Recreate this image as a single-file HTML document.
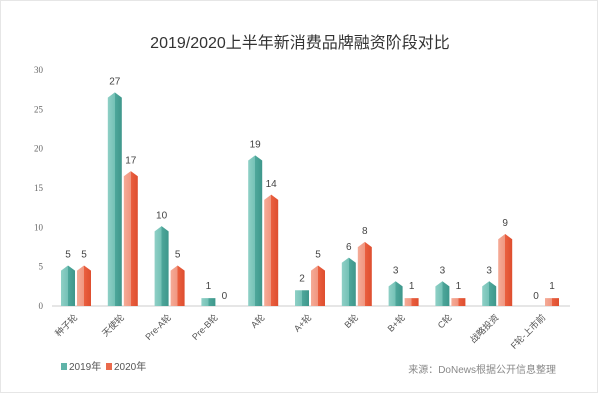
<!DOCTYPE html>
<html><head><meta charset="utf-8"><style>
body{margin:0;background:#fff;}
svg text{font-family:"Liberation Sans","Noto Sans CJK SC",sans-serif;}
</style></head><body>
<svg width="600" height="400" viewBox="0 0 600 400">
<defs>
<linearGradient id="gt" x1="0" x2="1"><stop offset="0" stop-color="#8fd0c6"/><stop offset="0.5" stop-color="#74c1b6"/><stop offset="0.5" stop-color="#4ea79b"/><stop offset="1" stop-color="#3e978b"/></linearGradient>
<linearGradient id="go" x1="0" x2="1"><stop offset="0" stop-color="#f5ab97"/><stop offset="0.5" stop-color="#f09680"/><stop offset="0.5" stop-color="#ea5f3f"/><stop offset="1" stop-color="#de4e2f"/></linearGradient>
</defs>
<rect x="0.5" y="0.5" width="597" height="392" fill="#fff" stroke="#e6e6e6"/>
<text x="300" y="48" text-anchor="middle" font-size="16" fill="#333">2019/2020上半年新消费品牌融资阶段对比</text>
<g id="yaxis"></g>
<line x1="52" y1="306" x2="570" y2="306" stroke="#ddd" stroke-width="1.5"/>
<g id="bars"></g>
<g id="xlab"></g>
<g>
<g><rect x="61" y="363" width="6" height="7" fill="#5fb3a8"/><text x="69" y="370" font-size="10" fill="#555">2019年</text></g>
<g><rect x="106" y="363" width="6" height="7" fill="#ea6a4c"/><text x="114" y="370" font-size="10" fill="#555">2020年</text></g>
</g>
<text x="556" y="373" text-anchor="end" font-size="10" fill="#888">来源：DoNews根据公开信息整理</text>
</svg>
<script>
const categories=["种子轮","天使轮","Pre-A轮","Pre-B轮","A轮","A+轮","B轮","B+轮","C轮","战略投资","F轮-上市前"];
const values2019=[5,27,10,1,19,2,6,3,3,3,0];
const values2020=[5,17,5,0,14,5,8,1,1,9,1];
const yTicks=[0,5,10,15,20,25,30];
const NS="http://www.w3.org/2000/svg";
const y0=306,yTop=70,yMax=30;
const yScale=v=>y0-(v/yMax)*(y0-yTop);
const xCenter=i=>76+i*46.8;
const bw=14;
function mk(tag,attrs,parent){const e=document.createElementNS(NS,tag);for(const k in attrs)e.setAttribute(k,attrs[k]);parent.appendChild(e);return e;}
const ya=document.getElementById('yaxis');
yTicks.forEach(t=>{const e=mk('text',{x:43,y:yScale(t)+3,'text-anchor':'end','font-size':'9',fill:'#666'},ya);
e.style.fontFamily='"Liberation Serif",serif';


e.textContent=t;});
const bars=document.getElementById('bars');
function bar(i,v,off,grad,series){
 const x=xCenter(i)+off;
 if(v>0){
  const yt=yScale(v),h=y0-yt,tip=h>20?4:0;
  const p=mk('path',{d:`M${x} ${y0}L${x} ${yt+tip}L${x+bw/2} ${yt-tip*0.3}L${x+bw} ${yt+tip}L${x+bw} ${y0}Z`,fill:`url(#${grad})`},bars);
  
  
 }
 const lt=mk('text',{x:x+bw/2,y:yScale(v)-(v>0?9:7),'text-anchor':'middle','font-size':'10',fill:'#444'},bars);
 
 
 lt.textContent=v;
}
categories.forEach((c,i)=>{
 bar(i,values2019[i],-15,'gt','2019');
 bar(i,values2020[i],1,'go','2020');
 const x=xCenter(i)+2,y=318;
 const t=mk('text',{x:x,y:y,'text-anchor':'end','font-size':'9',fill:'#555',transform:`rotate(-45 ${x} ${y})`},document.getElementById('xlab'));
 
 
 t.textContent=c;
});
</script>
</body></html>
